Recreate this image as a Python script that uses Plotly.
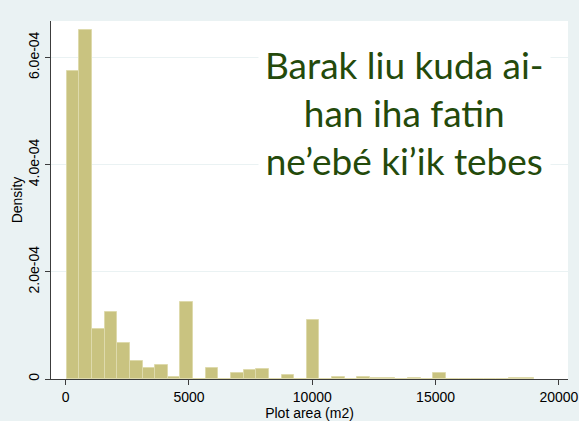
import plotly.graph_objects as go

# Histogram bins (plot area, m2) and densities
bin_start = 39
bin_width = 512.6
density = [
    5.75e-4, 6.51e-4, 0.933e-4, 1.244e-4, 0.666e-4, 0.336e-4, 0.200e-4, 0.261e-4,
    0.030e-4, 1.443e-4, 0.0, 0.210e-4, 0.0, 0.106e-4, 0.168e-4, 0.187e-4,
    0.0, 0.069e-4, 0.0, 1.095e-4, 0.0, 0.030e-4, 0.0, 0.045e-4,
    0.012e-4, 0.012e-4, 0.0, 0.012e-4, 0.0, 0.112e-4, 0.0, 0.0,
    0.0, 0.0, 0.0, 0.012e-4, 0.012e-4,
]
bin_centers = [bin_start + bin_width * (i + 0.5) for i in range(len(density))]

x_ticks = [0, 5000, 10000, 15000, 20000]
x_tick_labels = ["0", "5000", "10000", "15000", "20000"]
y_ticks = [0, 2e-4, 4e-4, 6e-4]
y_tick_labels = ["0", "2.0e-04", "4.0e-04", "6.0e-04"]

annotation_text = "Barak liu kuda ai-<br>han iha fatin<br>ne\u2019eb\u00e9 ki\u2019ik tebes"

BG = "rgb(234,242,243)"
AXIS = "rgb(60,60,60)"

fig = go.Figure()
fig.add_trace(go.Bar(
    x=bin_centers, y=density, width=bin_width,
    marker=dict(color="rgb(201,195,128)",
                line=dict(color="rgb(222,218,172)", width=1)),
    showlegend=False, hoverinfo="skip",
))

fig.update_layout(
    width=579, height=421,
    margin=dict(l=51, r=11, t=21, b=42),
    paper_bgcolor=BG, plot_bgcolor="white",
    font=dict(family="Liberation Sans, Arial, sans-serif", size=14, color="black"),
    bargap=0,
    xaxis=dict(
        range=[-596, 20370], tickmode="array", tickvals=x_ticks, ticktext=x_tick_labels,
        ticks="outside", ticklen=5, tickcolor=AXIS, showgrid=False, zeroline=False,
        showline=True, linecolor=AXIS, linewidth=1, automargin=False,
        title=dict(text="Plot area (m2)", standoff=0, font=dict(size=14)),
        tickfont=dict(size=14),
    ),
    yaxis=dict(
        range=[0, 6.68e-4], tickmode="array", tickvals=y_ticks, ticktext=y_tick_labels,
        ticks="outside", ticklen=5, tickcolor=AXIS, tickangle=-90,
        showgrid=True, gridcolor=BG, gridwidth=1, zeroline=False,
        showline=True, linecolor=AXIS, linewidth=1, automargin=False,
        title=dict(text="Density", standoff=0, font=dict(size=14)),
        tickfont=dict(size=14),
    ),
    annotations=[dict(
        text=annotation_text, xref="paper", yref="paper",
        x=(404 - 51) / 517, y=(379 - 112) / 358, xanchor="center", yanchor="middle",
        showarrow=False, align="center",
        font=dict(family="Lato, Carlito, sans-serif", size=37, color="rgb(36,74,11)"),
        bgcolor="white", borderpad=6,
    )],
)

fig.write_html(
    "out.html",
    config={"displayModeBar": False},
    post_script="document.body.style.margin='0px';document.body.style.background='rgb(234,242,243)';",
)
